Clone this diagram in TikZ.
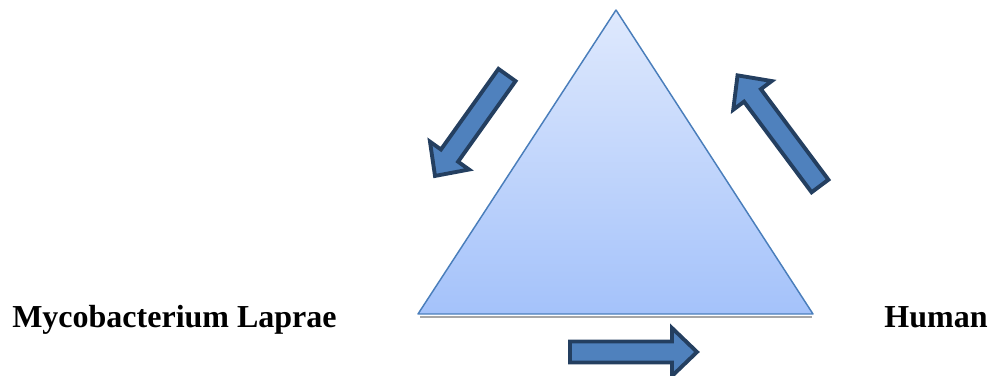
\documentclass[tikz,border=0pt]{standalone}
\usepackage{fontspec}
\setmainfont{Liberation Serif}
\usetikzlibrary{calc}
\definecolor{triEdge}{HTML}{4A7EBB}
\definecolor{triTop}{HTML}{DFE9FD}
\definecolor{triBottom}{HTML}{A4C2FA}
\definecolor{arrFill}{HTML}{4F81BD}
\definecolor{arrEdge}{HTML}{243F60}

\begin{document}
\begin{tikzpicture}[
  x=0.75pt,y=0.75pt,
  triangle/.style={draw=triEdge,line width=1.1pt,top color=triTop,bottom color=triBottom,line join=round},
  shadowline/.style={draw=black!35,line width=1.6pt},
  blockarr/.style={draw=arrEdge,fill=arrFill,line width=2.9pt,line join=miter},
  label/.style={font=\bfseries\fontsize{24}{28}\selectfont,inner sep=0pt},
  pics/blockarrow/.style={code={
    % tail at origin, pointing along +x
    \path[blockarr] (0,-10.5) -- (#1-25,-10.5) -- (#1-25,-24) -- (#1,0)
      -- (#1-25,24) -- (#1-25,10.5) -- (0,10.5) -- cycle;
  }}
]
\useasboundingbox (0,0) rectangle (996,375);

% triangle
\coordinate (apex) at (616,365);
\coordinate (left) at (418,61);
\coordinate (right) at (813,61);
\draw[shadowline] ($(left)+(2,-3)$) -- ($(right)+(-1,-3)$);
\path[triangle] (apex) -- (left) -- (right) -- cycle;

% cycle arrows
\pic[rotate=234.5] at (507,300) {blockarrow=124};
\pic[rotate=126.7] at (820,189) {blockarrow=138};
\pic at (570,23) {blockarrow=127};

% labels
\node[label,anchor=base west] (myco) at (12,47) {Mycobacterium Laprae};
\node[label,anchor=base] (human) at (936,47) {Human};
\end{tikzpicture}
\end{document}
